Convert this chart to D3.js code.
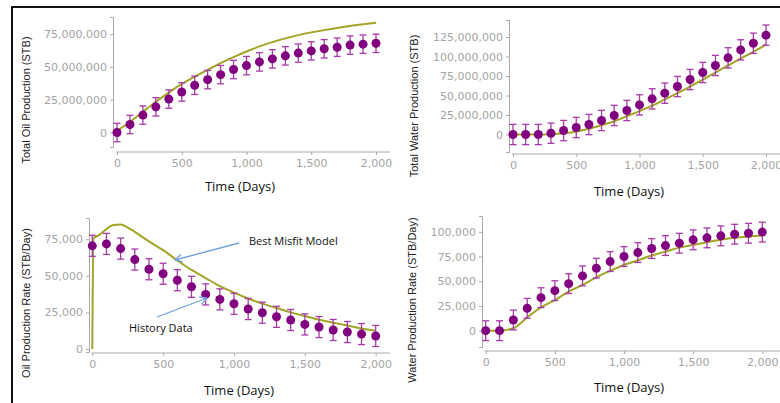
<!DOCTYPE html>
<html>
<head>
<meta charset="utf-8">
<script src="https://cdn.jsdelivr.net/npm/d3@7"></script>
<style>
  body { margin: 0; background: #fff; }
  svg { display: block; }
</style>
</head>
<body>
<svg id="chart"></svg>
<script>
const width = 780;
const height = 403;

// History data is sampled every 100 days
const days = [0,100,200,300,400,500,600,700,800,900,1000,1100,1200,1300,1400,1500,1600,1700,1800,1900,2000];

const oilTotalHist = [0,6.1e6,13.3e6,19.6e6,25.5e6,30.9e6,36e6,40.3e6,44.1e6,48e6,51e6,53.8e6,56.1e6,58.4e6,60.5e6,62.2e6,63.8e6,65e6,66.6e6,67.3e6,68e6];
const oilTotalModel = [1.3e6,8e6,15.8e6,23.5e6,30.4e6,37e6,42.6e6,47.7e6,52.8e6,57.4e6,61.7e6,65.6e6,68.9e6,71.7e6,74.2e6,76.3e6,78e6,79.6e6,81.1e6,82.4e6,83.6e6];

const waterTotalHist = [0,0,0,1.7e6,5.1e6,9e6,12.8e6,18e6,24.4e6,30.8e6,38e6,45.7e6,53e6,61.5e6,70.5e6,79.5e6,88.5e6,98.3e6,108.5e6,117e6,127.4e6];
const waterTotalModel = [0,0,0,0.3e6,1.5e6,4e6,7.5e6,12e6,17e6,23.5e6,30e6,37e6,45e6,53e6,61.5e6,70.5e6,79.5e6,88.5e6,97.5e6,106e6,115e6];

const oilRateHist = [70500,71800,68600,61100,54500,51400,47000,42500,37300,33900,30900,27300,24800,22000,19800,16800,15000,13000,11600,10200,8900];
const oilRateModelDays = [0,8,50,100,150,200,250,300,400,500,600,700,800,900,1000,1100,1200,1300,1400,1500,1600,1700,1800,1900,2000];
const oilRateModel = [0,75500,78000,82000,84800,85000,83000,80000,73500,67500,60500,54000,48500,43000,38500,34500,31000,28000,25000,22500,20000,18000,16000,14000,12500];

const waterRateHist = [0,0,10800,22600,33400,40500,47600,55400,63200,69900,75000,79000,83100,86100,88500,91900,93900,95900,97600,98600,99700];
const waterRateModel = [0,0,2400,13500,23600,31000,39500,46300,54000,60500,66500,71000,76000,80000,84000,86800,89500,91900,93900,95300,96300];

const xTicks = [0, 500, 1000, 1500, 2000];
const xLabel = "Time (Days)";

const fmt = d3.format(",");

const svg = d3.select("#chart")
  .attr("width", width)
  .attr("height", height);

// frame lines (top and left)
svg.append("line").attr("x1", 11).attr("x2", width).attr("y1", 7).attr("y2", 7)
  .attr("stroke", "#111").attr("stroke-width", 2);
svg.append("line").attr("x1", 12).attr("x2", 12).attr("y1", 6).attr("y2", height)
  .attr("stroke", "#111").attr("stroke-width", 2);

function drawPanel(p) {
  const g = svg.append("g");

  const x = d3.scaleLinear().domain([0, 2000]).range([p.x0, p.x1]);
  const y = d3.scaleLinear().domain(p.yDomain).range([p.yBottom, p.yTop]);

  // X axis
  const xAxis = g.append("g")
    .attr("transform", `translate(0, ${p.xAxisY})`)
    .call(d3.axisBottom(x).tickValues(xTicks).tickFormat(fmt).tickSizeOuter(0).tickSize(3).tickPadding(4));
  xAxis.select(".domain").remove();
  xAxis.append("line")
    .attr("x1", p.x0 - 1).attr("x2", p.xEnd)
    .attr("stroke", "#aaa");

  // Y axis
  const yAxis = g.append("g")
    .attr("transform", `translate(${p.yAxisX}, 0)`)
    .call(d3.axisLeft(y).tickValues(p.yTicks).tickFormat(fmt).tickSizeOuter(0).tickSize(3).tickPadding(3));
  yAxis.select(".domain").attr("stroke", "#aaa");

  g.selectAll(".tick line").attr("stroke", "#aaa");
  g.selectAll(".tick text")
    .attr("fill", "#a3a3a3")
    .style("font-family", "DejaVu Sans")
    .style("font-size", "11px");

  // Axis titles
  g.append("text")
    .attr("x", p.xLabelPos[0]).attr("y", p.xLabelPos[1])
    .attr("text-anchor", "middle").attr("dominant-baseline", "middle")
    .style("font-family", "Open Sans").style("font-size", "13px")
    .attr("fill", "#111")
    .text(xLabel);

  g.append("text")
    .attr("transform", `translate(${p.yLabelPos[0]}, ${p.yLabelPos[1]}) rotate(-90)`)
    .attr("text-anchor", "middle").attr("dominant-baseline", "middle")
    .style("font-family", "Liberation Sans").style("font-size", "11px")
    .attr("fill", "#222")
    .text(p.yLabel);

  // Model line
  const line = d3.line().curve(d3.curveMonotoneX).x(d => x(d[0])).y(d => y(d[1]));
  g.append("path")
    .datum(p.modelDays.map((t, i) => [t, p.model[i]]))
    .attr("fill", "none")
    .attr("stroke", "#a3a326")
    .attr("stroke-width", 2)
    .attr("d", line);

  // Error bars
  const hist = days.map((t, i) => ({ t: t, v: p.hist[i] }));
  const bars = g.selectAll(".err")
    .data(hist)
    .enter()
    .append("g")
    .attr("class", "err")
    .attr("stroke", "#a83aa8")
    .attr("stroke-width", 1.3);
  bars.append("line")
    .attr("x1", d => x(d.t)).attr("x2", d => x(d.t))
    .attr("y1", d => y(d.v - p.err)).attr("y2", d => y(d.v + p.err));
  bars.append("line")
    .attr("x1", d => x(d.t) - 3.5).attr("x2", d => x(d.t) + 3.5)
    .attr("y1", d => y(d.v + p.err)).attr("y2", d => y(d.v + p.err));
  bars.append("line")
    .attr("x1", d => x(d.t) - 3.5).attr("x2", d => x(d.t) + 3.5)
    .attr("y1", d => y(d.v - p.err)).attr("y2", d => y(d.v - p.err));

  // Points
  g.selectAll(".dot")
    .data(hist)
    .enter()
    .append("circle")
    .attr("class", "dot")
    .attr("cx", d => x(d.t))
    .attr("cy", d => y(d.v))
    .attr("r", 4.5)
    .attr("fill", "#800080");

  return { x, y, g };
}

drawPanel({
  x0: 117, x1: 376, xEnd: 390, xAxisY: 152,
  yAxisX: 113, yTop: 17, yBottom: 147, yDomain: [-11e6, 88e6],
  yTicks: [0, 25e6, 50e6, 75e6],
  yLabel: "Total Oil Production (STB)",
  xLabelPos: [240, 188], yLabelPos: [27, 100],
  hist: oilTotalHist, err: 7e6,
  modelDays: days, model: oilTotalModel
});

drawPanel({
  x0: 513, x1: 766, xEnd: 780, xAxisY: 154,
  yAxisX: 509, yTop: 20, yBottom: 152, yDomain: [-22.4e6, 146.8e6],
  yTicks: [0, 25e6, 50e6, 75e6, 100e6, 125e6],
  yLabel: "Total Water Production (STB)",
  xLabelPos: [629, 193], yLabelPos: [415, 106],
  hist: waterTotalHist, err: 13e6,
  modelDays: days, model: waterTotalModel
});

drawPanel({
  x0: 92.3, x1: 375.7, xEnd: 390, xAxisY: 353,
  yAxisX: 89, yTop: 218, yBottom: 352, yDomain: [-2050, 89500],
  yTicks: [0, 25000, 50000, 75000],
  yLabel: "Oil Production Rate (STB/Day)",
  xLabelPos: [239, 392], yLabelPos: [27, 303],
  hist: oilRateHist, err: 7200,
  modelDays: oilRateModelDays, model: oilRateModel
});

drawPanel({
  x0: 485.7, x1: 762.3, xEnd: 780, xAxisY: 351,
  yAxisX: 482, yTop: 216, yBottom: 347, yDomain: [-16500, 116000],
  yTicks: [0, 25000, 50000, 75000, 100000],
  yLabel: "Water Production Rate (STB/Day)",
  xLabelPos: [629, 389], yLabelPos: [413, 300],
  hist: waterRateHist, err: 10000,
  modelDays: days, model: waterRateModel
});

// Annotations on the oil rate panel
const notes = [
  { text: "Best Misfit Model", tx: 249, ty: 242, from: [239, 243], to: [175, 260] },
  { text: "History Data", tx: 129, ty: 329, from: [157, 317], to: [207, 298] }
];

notes.forEach(n => {
  svg.append("text")
    .attr("x", n.tx).attr("y", n.ty)
    .attr("dominant-baseline", "middle")
    .style("font-family", "Open Sans").style("font-size", "11px")
    .attr("fill", "#111")
    .text(n.text);

  const dx = n.to[0] - n.from[0], dy = n.to[1] - n.from[1];
  const ang = Math.atan2(dy, dx);
  const len = 8, spread = 0.5;
  svg.append("line")
    .attr("x1", n.from[0]).attr("y1", n.from[1])
    .attr("x2", n.to[0]).attr("y2", n.to[1])
    .attr("stroke", "#6f9fd6").attr("stroke-width", 1.3);
  [-spread, spread].forEach(s => {
    svg.append("line")
      .attr("x1", n.to[0]).attr("y1", n.to[1])
      .attr("x2", n.to[0] - len * Math.cos(ang + s))
      .attr("y2", n.to[1] - len * Math.sin(ang + s))
      .attr("stroke", "#6f9fd6").attr("stroke-width", 1.3);
  });
});
</script>
</body>
</html>
